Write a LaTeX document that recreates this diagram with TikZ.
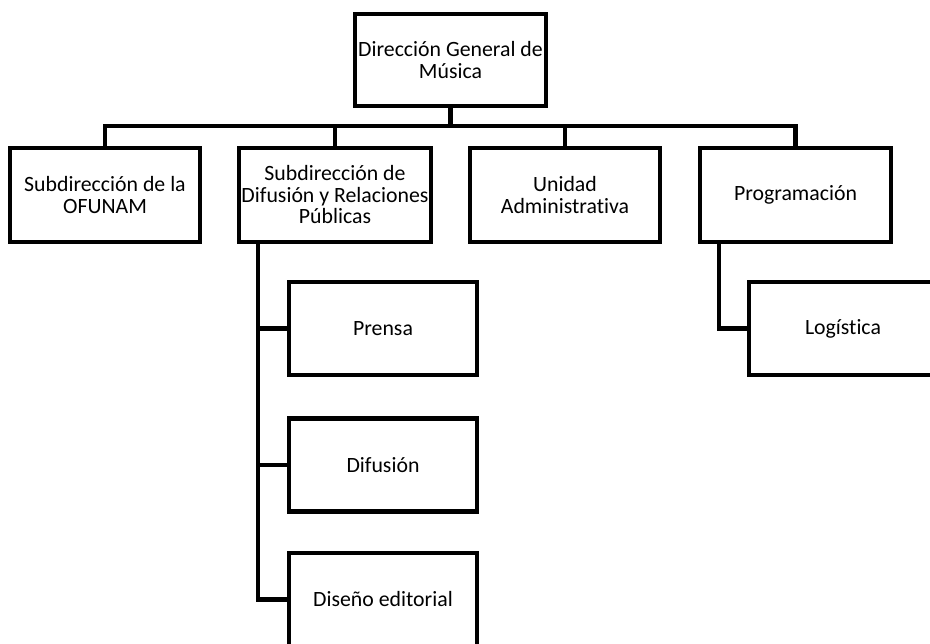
\documentclass[tikz,border=0pt]{standalone}
\usepackage{fontspec}
\setmainfont[Ligatures=NoCommon]{Carlito}
\begin{document}
\begin{tikzpicture}[x=1pt,y=-1pt,
  unit/.style={draw=black,line width=4.5pt,rectangle,fill=white,inner sep=0pt,
    minimum width=191pt,minimum height=94pt,align=center,
    font=\fontsize{21.8}{21.5}\selectfont},
  link/.style={draw=black,line width=4.5pt}]
\useasboundingbox (0,0) rectangle (930,644);
\clip (0,0) rectangle (930,644);
\fill[white] (0,0) rectangle (930,644);

% head office
\node[unit,minimum height=92pt] (dgm) at (450.5,60) {Dirección General de\\Música};

% second level
\node[unit,minimum width=190pt] (ofunam) at (105,195) {Subdirección de la\\OFUNAM};
\node[unit,minimum width=192pt] (difrp) at (335,195) {Subdirección de\\Difusión y Relaciones\\Públicas};
\node[unit,minimum width=190pt] (uadm) at (565,195) {Unidad\\Administrativa};
\node[unit] (prog) at (795.5,195) {Programación};

% third level
\node[unit,minimum width=188pt,minimum height=93pt] (prensa) at (383,328.5) {Prensa};
\node[unit,minimum width=188pt,minimum height=93pt] (difusion) at (383,465) {Difusión};
\node[unit,minimum width=188pt,minimum height=93pt] (diseno) at (383,599.5) {Diseño editorial};
\node[unit,minimum width=188pt,minimum height=93pt] (logistica) at (843,328.5) {Logística};

% bus and drops
\coordinate (bus) at (0,126);
\draw[link] (dgm.south) -- (dgm.south |- bus);
\draw[link] (ofunam.north) -- (ofunam.north |- bus) -- (prog.north |- bus) -- (prog.north);
\draw[link] (difrp.north |- bus) -- (difrp.north);
\draw[link] (uadm.north |- bus) -- (uadm.north);

% branch under the communications office
\coordinate (spine) at (258,0);
\draw[link] (difrp.south -| spine) -- (spine |- diseno.west) -- (diseno.west);
\draw[link] (spine |- prensa.west) -- (prensa.west);
\draw[link] (spine |- difusion.west) -- (difusion.west);

% branch under programming
\coordinate (spine2) at (719,0);
\draw[link] (prog.south -| spine2) -- (spine2 |- logistica.west) -- (logistica.west);
\end{tikzpicture}
\end{document}
